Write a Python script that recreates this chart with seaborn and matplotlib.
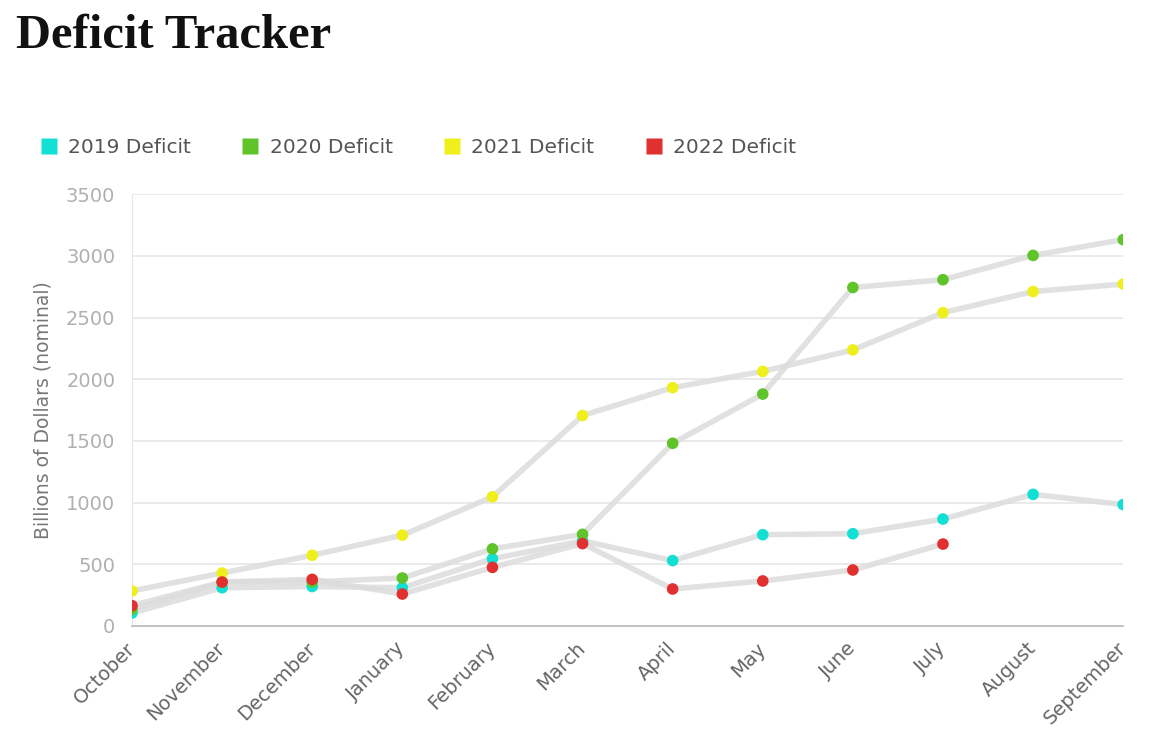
import numpy as np
import pandas as pd
import matplotlib
matplotlib.use("Agg")
import matplotlib.pyplot as plt
import seaborn as sns
from matplotlib.lines import Line2D

months = ["October", "November", "December", "January", "February", "March",
          "April", "May", "June", "July", "August", "September"]

deficit_2019 = [105, 310, 320, 310, 545, 690, 530, 740, 748, 867, 1067, 984]
deficit_2020 = [135, 356, 357, 389, 625, 743, 1481, 1880, 2744, 2807, 3004, 3132]
deficit_2021 = [284, 429, 573, 736, 1047, 1706, 1932, 2064, 2238, 2540, 2711, 2772]
deficit_2022 = [165, 356, 378, 259, 475, 668, 300, 365, 454, 664, np.nan, np.nan]

series = ["2019 Deficit", "2020 Deficit", "2021 Deficit", "2022 Deficit"]
colors = ["#12e0d4", "#5ec42a", "#efef1c", "#e03030"]

rows = []
for name, vals in zip(series, [deficit_2019, deficit_2020, deficit_2021, deficit_2022]):
    for i, (m, v) in enumerate(zip(months, vals)):
        rows.append({"series": name, "month": m, "pos": i, "value": v})
df = pd.DataFrame(rows)

sns.set_style("white")
plt.rcParams["font.family"] = ["DejaVu Sans"]

fig = plt.figure(figsize=(11.62, 7.47), dpi=100)
ax = fig.add_axes([0.1136, 0.162, 0.853, 0.578])

# grey connecting lines
sns.lineplot(data=df, x="pos", y="value", units="series", estimator=None,
             color="#dcdcdc", linewidth=4, alpha=0.85, ax=ax, legend=False,
             zorder=2)
# colored dots
sns.scatterplot(data=df.dropna(), x="pos", y="value", hue="series",
                palette=dict(zip(series, colors)), s=70, edgecolor="none",
                ax=ax, legend=False, zorder=3)

ax.set_xlim(0, 11)
ax.set_ylim(0, 3500)
ax.set_yticks(range(0, 3501, 500))
ax.set_xticks(range(len(months)))
ax.set_xticklabels(months, rotation=45, ha="right", va="center",
                   rotation_mode="anchor", fontsize=14, color="#666666")
ax.tick_params(axis="y", labelsize=14, labelcolor="#b0b0b0", length=0, pad=12)
ax.tick_params(axis="x", length=0, pad=14)
ax.yaxis.grid(True, color="#e6e6e6", linewidth=1.2)
ax.set_axisbelow(True)
ax.set_xlabel("")
ax.set_ylabel("Billions of Dollars (nominal)", fontsize=13.5, color="#777777",
              labelpad=10)

for side in ["top", "right"]:
    ax.spines[side].set_visible(False)
ax.spines["left"].set_color("#e6e6e6")
ax.spines["bottom"].set_color("#b8b8b8")
ax.spines["bottom"].set_linewidth(1.2)

handles = [Line2D([0], [0], marker="s", linestyle="none", markersize=11,
                  markerfacecolor=c, markeredgecolor="none", label=s)
           for s, c in zip(series, colors)]
fig.legend(handles=handles, loc="center left", bbox_to_anchor=(0.0353, 0.803),
           ncol=4, frameon=False, fontsize=14.5, handlelength=0.8,
           handletextpad=0.55, columnspacing=2.55, labelcolor="#555555",
           borderpad=0, borderaxespad=0)

fig.text(0.014, 0.9357, "Deficit Tracker", fontsize=35, va="baseline",
         weight="bold", family=["Liberation Serif", "DejaVu Serif"],
         color="#111111")

fig.savefig("out.png", dpi=100)
